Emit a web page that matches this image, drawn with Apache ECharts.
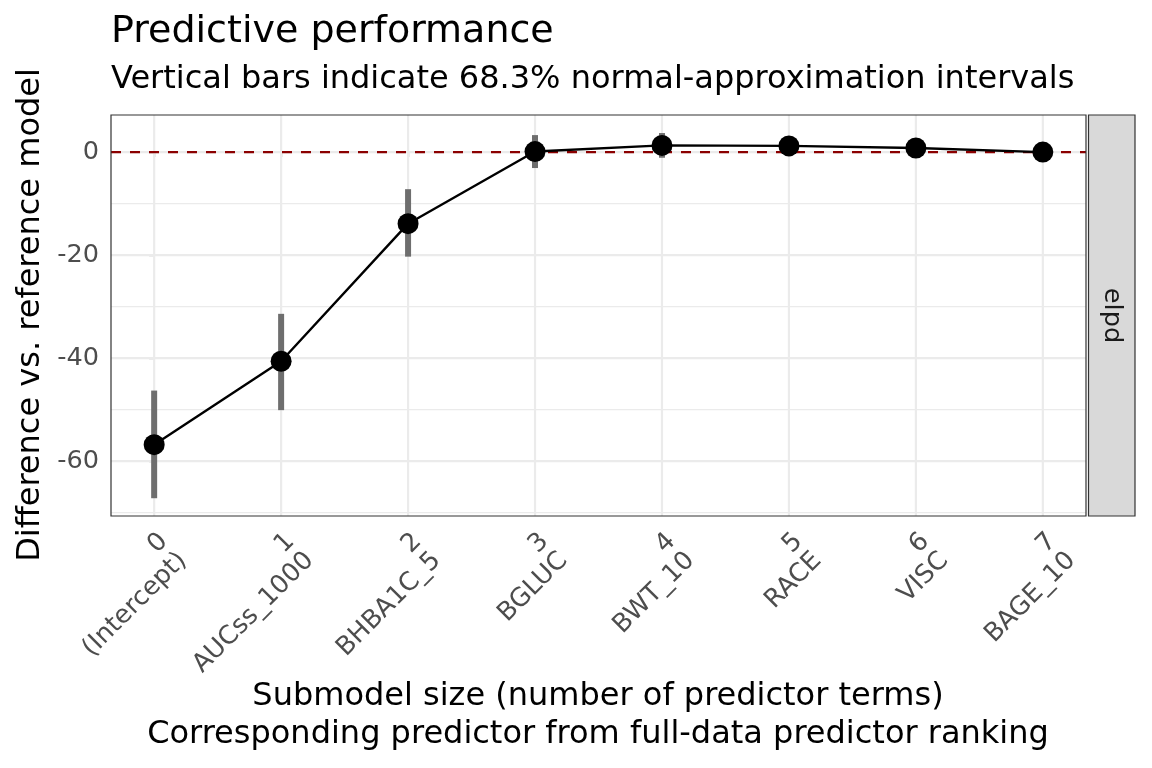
<!DOCTYPE html>
<html>
<head>
<meta charset="utf-8">
<script src="https://cdn.jsdelivr.net/npm/echarts@6/dist/echarts.min.js"></script>
<style>
html,body{margin:0;padding:0;background:#fff;}
#chart{width:1152px;height:768px;}
</style>
</head>
<body>
<div id="chart"></div>
<script>
// ---- data ----
const sizes = [0, 1, 2, 3, 4, 5, 6, 7];
const predictors = ["(Intercept)", "AUCss_1000", "BHBA1C_5", "BGLUC", "BWT_10", "RACE", "VISC", "BAGE_10"];
const diff  = [-56.8, -40.6, -13.9, 0.1, 1.3, 1.2, 0.8, 0.0];
const lower = [-67.2, -50.1, -20.3, -3.1, -1.1, -0.3, -0.4, 0.0];
const upper = [-46.3, -31.4, -7.2, 3.3, 3.7, 2.7, 2.0, 0.0];
const yMajorTicks = [-60, -40, -20, 0];
const yMinorTicks = [-70, -50, -30, -10];
const refLine = [0];

const FONT = "DejaVu Sans";
const chart = echarts.init(document.getElementById('chart'), null, {renderer: 'canvas'});

const G = {left: 111, top: 115, width: 975, height: 401};

function hLines(values, color, width, dash, z) {
  return {
    type: 'custom', z: z, silent: true, clip: false,
    data: values.map(v => [v]),
    renderItem: (params, api) => {
      const cs = params.coordSys;
      const y = api.coord([0, api.value(0)])[1];
      return {type: 'line', shape: {x1: cs.x, y1: y, x2: cs.x + cs.width, y2: y},
              style: {stroke: color, lineWidth: width, lineDash: dash || null, fill: null}};
    }
  };
}
function vLines(values, color, width, z) {
  return {
    type: 'custom', z: z, silent: true, clip: false,
    data: values.map(v => [v]),
    renderItem: (params, api) => {
      const cs = params.coordSys;
      const x = api.coord([api.value(0), 0])[0];
      return {type: 'line', shape: {x1: x, y1: cs.y, x2: x, y2: cs.y + cs.height},
              style: {stroke: color, lineWidth: width, fill: null}};
    }
  };
}

const option = {
  animation: false,
  backgroundColor: '#ffffff',
  grid: {left: G.left, top: G.top, width: G.width, height: G.height, show: true,
         borderColor: '#333333', borderWidth: 1.2, backgroundColor: 'transparent', z: 10},
  xAxis: {
    type: 'value', min: -0.34, max: 7.34,
    axisLine: {show: false},
    splitLine: {show: false},
    axisTick: {show: true, customValues: sizes, length: 5, lineStyle: {color: '#333333', width: 1.2}},
    axisLabel: {
      customValues: sizes, rotate: 45, align: 'right', verticalAlign: 'top', margin: 12,
      fontFamily: FONT, fontSize: 25.6, color: '#4d4d4d', lineHeight: 27,
      formatter: v => { const i = Math.round(v); return i + '\n' + predictors[i]; }
    }
  },
  yAxis: {
    type: 'value', min: -70.65, max: 7.2,
    axisLine: {show: false},
    splitLine: {show: false},
    axisTick: {show: true, customValues: yMajorTicks, length: 5, lineStyle: {color: '#333333', width: 1.2}},
    axisLabel: {customValues: yMajorTicks, margin: 12, fontFamily: FONT, fontSize: 25.6, color: '#4d4d4d'}
  },
  series: [
    hLines(yMinorTicks, '#ebebeb', 1.1, null, 1),
    hLines(yMajorTicks, '#ebebeb', 2.2, null, 1),
    vLines(sizes, '#ebebeb', 2.2, 1),
    hLines(refLine, '#8b0000', 2.4, [10, 9], 2),
    { // error bars
      type: 'custom', z: 3, silent: true,
      data: sizes.map((s, i) => [s, lower[i], upper[i]]),
      renderItem: (params, api) => {
        const p1 = api.coord([api.value(0), api.value(1)]);
        const p2 = api.coord([api.value(0), api.value(2)]);
        const w = 6;
        return {type: 'rect', shape: {x: p1[0] - w / 2, y: Math.min(p1[1], p2[1]), width: w, height: Math.abs(p1[1] - p2[1])},
                style: {fill: '#6e6e6e', stroke: null}};
      }
    },
    { // line
      type: 'line', z: 4, silent: true, symbol: 'none',
      data: sizes.map((s, i) => [s, diff[i]]),
      lineStyle: {color: '#000000', width: 2.4}
    },
    { // points
      type: 'scatter', z: 5, silent: true, symbol: 'circle', symbolSize: 21,
      data: sizes.map((s, i) => [s, diff[i]]),
      itemStyle: {color: '#000000', opacity: 1}
    }
  ],
  graphic: [
    {type: 'text', x: 111, y: 32, style: {text: 'Predictive performance', font: '38px "DejaVu Sans"', fill: '#000', textAlign: 'left', textVerticalAlign: 'middle'}},
    {type: 'text', x: 111, y: 80, style: {text: 'Vertical bars indicate 68.3% normal-approximation intervals', font: '32px "DejaVu Sans"', fill: '#000', textAlign: 'left', textVerticalAlign: 'middle'}},
    {type: 'text', x: 31, y: 315, rotation: Math.PI / 2, style: {text: 'Difference vs. reference model', font: '32px "DejaVu Sans"', fill: '#000', textAlign: 'center', textVerticalAlign: 'middle'}},
    {type: 'text', x: 598, y: 697, style: {text: 'Submodel size (number of predictor terms)', font: '32px "DejaVu Sans"', fill: '#000', textAlign: 'center', textVerticalAlign: 'middle'}},
    {type: 'text', x: 598, y: 735, style: {text: 'Corresponding predictor from full-data predictor ranking', font: '32px "DejaVu Sans"', fill: '#000', textAlign: 'center', textVerticalAlign: 'middle'}},
    {type: 'rect', shape: {x: 1088.5, y: 115, width: 46.5, height: 401}, style: {fill: '#d9d9d9', stroke: '#333333', lineWidth: 1.2}},
    {type: 'text', x: 1111.5, y: 315.5, rotation: -Math.PI / 2, style: {text: 'elpd', font: '25.6px "DejaVu Sans"', fill: '#1a1a1a', textAlign: 'center', textVerticalAlign: 'middle'}}
  ]
};
chart.setOption(option);
</script>
</body>
</html>
